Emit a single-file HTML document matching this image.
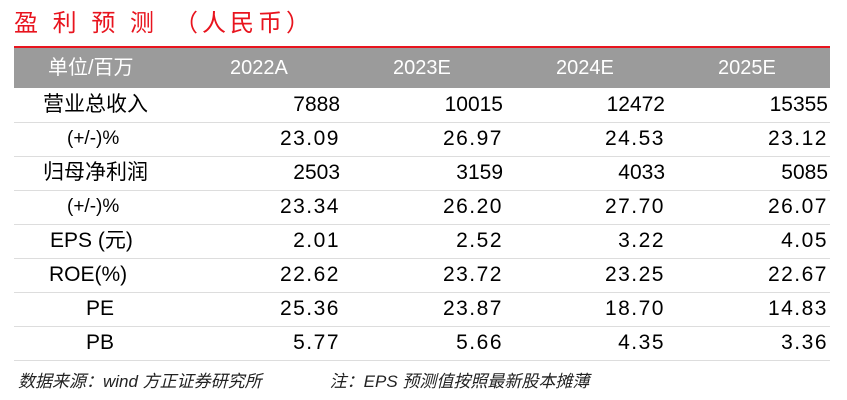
<!DOCTYPE html>
<html><head><meta charset="utf-8"><style>
body{margin:0;width:847px;height:400px;background:#fff;font-family:"Liberation Sans","Noto Sans CJK SC",sans-serif;position:relative;overflow:hidden}
.t{position:absolute;white-space:nowrap}
#title{left:14px;top:8px;color:#e8141e;font-size:24px;letter-spacing:4px;line-height:32px}
#rl{position:absolute;left:14px;top:46px;width:816px;height:2px;background:#e8141e}
#hdr{position:absolute;left:14px;top:48px;width:816px;height:40px;background:#9b9b9b}
.h{color:#fff;font-size:20px;top:48px;line-height:40px}
.row{position:absolute;left:14px;width:816px;height:34px;border-bottom:1px solid #ddd}
.c{position:absolute;top:0;line-height:34px;font-size:21px;color:#000}
.n{text-align:right;width:140px;font-size:21px}
#foot{left:18px;top:370px;font-size:17px;font-style:italic;color:#222;line-height:24px}
</style></head><body>
<div class="t" id="title">盈 利 预 测　（人民币）</div>
<div id="rl"></div>
<div id="hdr"></div>
<div class="t h" style="left:48px">单位/百万</div>
<div class="t h" style="left:230px">2022A</div>
<div class="t h" style="left:393px">2023E</div>
<div class="t h" style="left:556px">2024E</div>
<div class="t h" style="left:718px">2025E</div>
<div id="rows"></div>
<div class="t" id="foot">数据来源：wind 方正证券研究所　　　　注：EPS 预测值按照最新股本摊薄</div>
<script>
const labels=["营业总收入","(+/-)%","归母净利润","(+/-)%","EPS (元)","ROE(%)","PE","PB"];
const labelX=[29,53,29,53,36,35,72,72];
const y2022=["7888","23.09","2503","23.34","2.01","22.62","25.36","5.77"];
const y2023=["10015","26.97","3159","26.20","2.52","23.72","23.87","5.66"];
const y2024=["12472","24.53","4033","27.70","3.22","23.25","18.70","4.35"];
const y2025=["15355","23.12","5085","26.07","4.05","22.67","14.83","3.36"];
const cols=[y2022,y2023,y2024,y2025];
const rights=[326,489,651,814];
const host=document.getElementById('rows');
labels.forEach((lab,i)=>{
 const r=document.createElement('div');r.className='row';r.style.top=(88+i*34)+'px';
 
 
 const l=document.createElement('div');l.className='c';l.style.left=labelX[i]+'px';l.textContent=lab;
 if(i%2==1&&i<4)l.style.fontSize='19px';
 
 
 r.appendChild(l);
 cols.forEach((c,j)=>{
  const v=document.createElement('div');v.className='c n';v.style.left=(rights[j]-140)+'px';v.textContent=c[i];
  if(c[i].includes('.'))v.style.letterSpacing='1.5px';
  
  
  r.appendChild(v);
 });
 host.appendChild(r);
});
</script>
</body></html>
